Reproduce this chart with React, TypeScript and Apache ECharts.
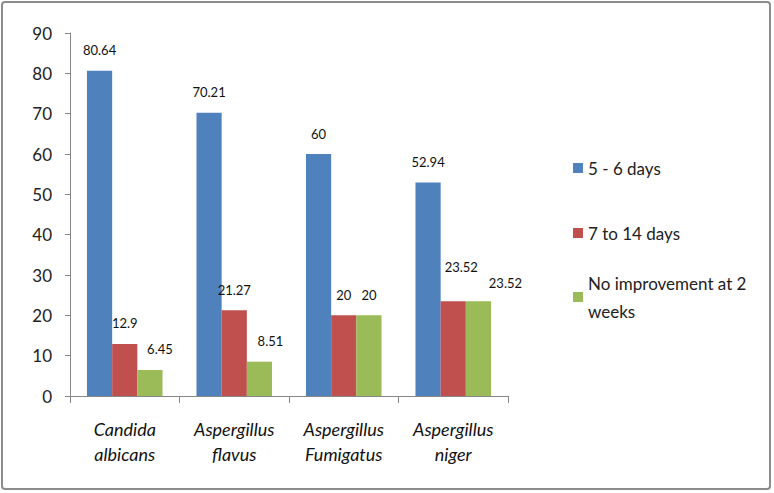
import React, { useEffect, useRef } from "react";
import * as echarts from "echarts";

const categories = ["Candida\nalbicans", "Aspergillus\nflavus", "Aspergillus\nFumigatus", "Aspergillus\nniger"];
const seriesNames = ["5 - 6 days", "7 to 14 days", "No improvement at 2 weeks"];
const days5to6 = [80.64, 70.21, 60, 52.94];
const days7to14 = [12.9, 21.27, 20, 23.52];
const noImprovement = [6.45, 8.51, 20, 23.52];
const yTicks = { min: 0, max: 90, interval: 10 };

const colors = ["#4F81BD", "#C0504D", "#9BBB59"];
// label nudges (style only), per series per category
const labelOffsets: number[][][] = [
  [[0, 0], [0, 0], [0, 0], [0, 0]],
  [[0, 0], [0, 0], [0, 0], [8, -14]],
  [[10, 0], [11, 0], [0, 0], [27, 2]],
];

const FONT = "Lato, 'Liberation Sans', sans-serif";

export default function App() {
  const ref = useRef<HTMLDivElement>(null);
  useEffect(() => {
    document.body.style.margin = "0";
    const chart = echarts.init(ref.current!, null, { renderer: "svg" });
    const values = [days5to6, days7to14, noImprovement];
    const series = values.map((vals, si) => ({
      name: seriesNames[si],
      type: "bar",
      barGap: "0%",
      barCategoryGap: "31%",
      itemStyle: { color: colors[si] },
      label: {
        show: true,
        position: "top",
        distance: 14,
        color: "#111",
        fontSize: 13,
        fontFamily: FONT,
      },
      data: vals.map((v, ci) => ({ value: v, label: { offset: labelOffsets[si][ci] } })),
    }));
    const lh = 28;
    const legendBase = {
      orient: "vertical",
      left: 573,
      padding: 0,
      itemWidth: 10,
      itemHeight: 10,
      icon: "rect",
      selectedMode: false,
    };
    const legendText = { fontSize: 17, color: "#222", fontFamily: FONT, lineHeight: lh };
    chart.setOption({
      animation: false,
      textStyle: { fontFamily: FONT },
      grid: { left: 70, right: 266, top: 33, bottom: 97 },
      graphic: [
        {
          type: "rect",
          shape: { x: 2, y: 2, width: 768, height: 487, r: 3 },
          style: { fill: "none", stroke: "#8c8c8c", lineWidth: 2 },
          z: 100,
        },
      ],
      legend: [
        { ...legendBase, top: 168 - lh / 2, data: [seriesNames[0]], textStyle: legendText },
        { ...legendBase, top: 233 - lh / 2, data: [seriesNames[1]], textStyle: legendText },
        {
          ...legendBase,
          top: 297 - lh * 1.5,
          data: [seriesNames[2]],
          formatter: () => "No improvement at 2\nweeks",
          textStyle: { ...legendText, padding: [lh, 0, 0, 0] },
        },
      ],
      xAxis: {
        type: "category",
        data: categories,
        axisLine: { lineStyle: { color: "#868686", width: 1 } },
        axisTick: { show: true, length: 7, lineStyle: { color: "#868686" } },
        axisLabel: {
          margin: 20,
          fontSize: 18,
          fontStyle: "italic",
          lineHeight: 25,
          color: "#111",
          fontFamily: FONT,
          interval: 0,
        },
      },
      yAxis: {
        type: "value",
        min: yTicks.min,
        max: yTicks.max,
        interval: yTicks.interval,
        splitLine: { show: false },
        axisLine: { show: true, lineStyle: { color: "#868686", width: 1 } },
        axisTick: { show: true, length: 5, lineStyle: { color: "#868686" } },
        axisLabel: { margin: 18, fontSize: 17, color: "#222", fontFamily: FONT },
      },
      series,
    });
    return () => chart.dispose();
  }, []);
  return <div ref={ref} style={{ width: 774, height: 493 }} />;
}
